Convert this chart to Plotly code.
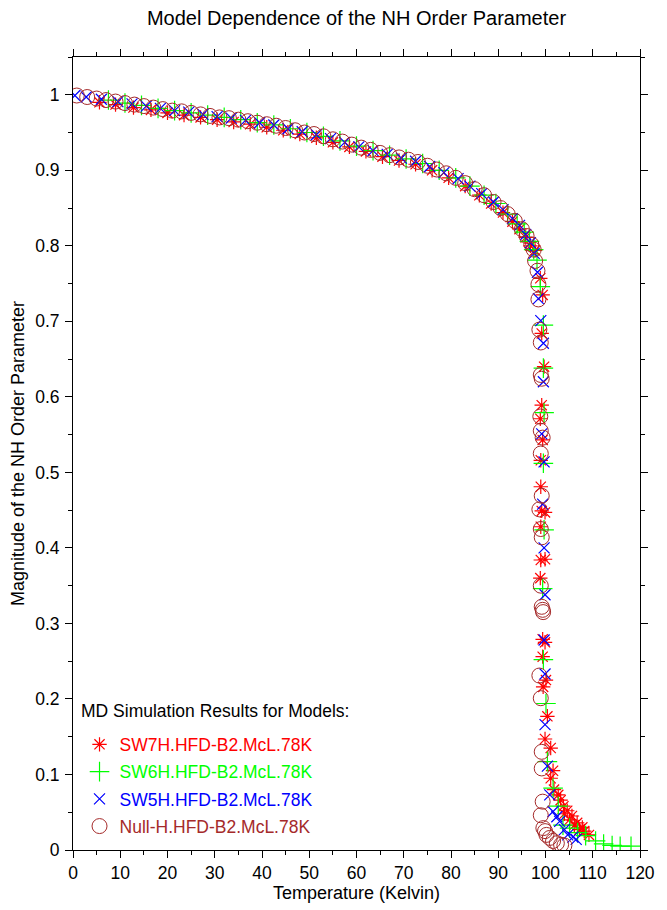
import plotly.graph_objects as go

# Temperature (K) and |S_NH| for each MD model
sw7h_temp = [5.6, 9, 12.8, 16.5, 20, 23.5, 27, 30.5, 34, 37.5, 41, 44.5, 48, 51.5, 55, 58.5,
             62, 65.5, 69, 72.5, 76, 79.5, 83, 86, 88.5, 91, 93, 94.5, 95.8, 96.8, 97.8,
             98.9, 99.4, 99.2, 99.7, 99.2, 98.9, 99.4, 99.2, 99.0, 99.0, 99.9, 99.0, 99.0,
             99.9, 98.9, 99.4, 99.9, 99.4, 100.1, 99.5, 100.4, 99.9, 101.1, 101.6, 101.1,
             101.8, 102.7, 103.2, 103.8, 104.0, 104.6, 105.1, 105.6, 106.1, 106.7, 107.2,
             107.8, 108.2, 109.2]
sw7h_order = [0.990, 0.987, 0.983, 0.980, 0.976, 0.973, 0.970, 0.967, 0.964, 0.961, 0.957,
              0.953, 0.948, 0.943, 0.937, 0.931, 0.925, 0.918, 0.913, 0.908, 0.900, 0.890,
              0.879, 0.867, 0.856, 0.844, 0.832, 0.822, 0.811, 0.800, 0.794,
              0.757, 0.735, 0.684, 0.640, 0.589, 0.571, 0.543, 0.449, 0.516, 0.481, 0.447,
              0.428, 0.384, 0.385, 0.360, 0.279, 0.275, 0.256, 0.225, 0.216, 0.177, 0.147,
              0.135, 0.105, 0.095, 0.080, 0.073, 0.066, 0.058, 0.048, 0.052, 0.040, 0.045,
              0.033, 0.036, 0.027, 0.030, 0.025, 0.020]

sw6h_temp = [7.5, 11, 14.5, 18, 21.5, 25, 28.5, 32, 35.5, 39, 42.5, 46, 49.5, 53, 56.5, 60,
             63.5, 67, 70.5, 74, 77.5, 81, 84, 87, 89.5, 92, 94, 95.5, 96.6, 97.5,
             98.2, 98.9, 99.55, 99.55, 99.7, 99.55, 99.7, 99.4, 99.55, 100.1, 100.4, 101.6,
             102.7, 103.7, 105.1, 106.8, 108.5, 110.6, 112.3, 114.1, 115.8, 118.1]
sw6h_order = [0.993, 0.989, 0.986, 0.982, 0.979, 0.976, 0.973, 0.970, 0.967, 0.963, 0.960,
              0.955, 0.950, 0.945, 0.939, 0.932, 0.926, 0.920, 0.915, 0.909, 0.900, 0.890,
              0.879, 0.867, 0.856, 0.842, 0.829, 0.818, 0.806, 0.795,
              0.781, 0.746, 0.695, 0.638, 0.579, 0.512, 0.424, 0.346, 0.252, 0.194, 0.117,
              0.082, 0.058, 0.033, 0.029, 0.023, 0.019, 0.012, 0.008, 0.006, 0.005, 0.005]

sw5h_temp = [0.4, 2.8, 6, 9.5, 12.5, 15.5, 18.5, 21.5, 24.5, 27.5, 30.5, 33.5, 36.5, 39.5,
             42.5, 45.5, 48.5, 51.5, 54.5, 57.5, 60.5, 63.5, 66.5, 69.5, 72.5, 75.5, 78.5,
             81.5, 84, 86.5, 89, 91, 93, 94.5, 95.8, 96.8, 97.6,
             98.3, 98.5, 99.0, 99.55, 99.55, 99.2, 99.7, 99.4, 99.7, 99.9, 99.7, 99.9, 99.9,
             100.4, 100.9, 101.6, 102.4, 103.0, 104.0, 104.7, 105.8, 106.5]
sw5h_order = [0.999, 0.997, 0.994, 0.991, 0.988, 0.985, 0.982, 0.979, 0.977, 0.974, 0.971,
              0.969, 0.966, 0.963, 0.960, 0.955, 0.951, 0.947, 0.942, 0.937, 0.931, 0.926,
              0.921, 0.916, 0.912, 0.905, 0.897, 0.889, 0.879, 0.869, 0.858, 0.848, 0.836,
              0.827, 0.815, 0.804, 0.790,
              0.765, 0.730, 0.701, 0.671, 0.620, 0.551, 0.514, 0.458, 0.400, 0.338, 0.278,
              0.233, 0.166, 0.111, 0.073, 0.051, 0.044, 0.038, 0.027, 0.020, 0.017, 0.014]

null_temp = [0.8, 3, 5, 7, 9, 11, 13, 15, 17, 19, 21, 23, 25, 27, 29, 31, 33, 35, 37, 39, 41,
             43, 45, 47, 49, 51, 53, 55, 57, 59, 61, 63, 65, 67, 69, 71, 73, 75, 77, 79, 81,
             83, 85, 87, 89, 90.5, 92, 93.5, 95, 96, 97, 97.5, 97.8, 98.3, 98.5, 98.5,
             98.7, 99.0, 99.0, 99.2, 98.9, 99.0, 99.4, 99.0, 99.2, 98.7, 99.0, 99.2, 99.0,
             99.2, 99.4, 99.5, 98.7, 99.0, 99.2, 99.2, 99.4, 99.0, 99.55, 99.9, 100.2,
             100.9, 101.6, 102.4, 103.3, 104.0]
null_order = [0.999, 0.997, 0.995, 0.993, 0.991, 0.989, 0.987, 0.985, 0.983, 0.981, 0.979,
              0.978, 0.976, 0.974, 0.972, 0.970, 0.969, 0.967, 0.965, 0.963, 0.961, 0.959,
              0.956, 0.953, 0.950, 0.948, 0.945, 0.941, 0.938, 0.934, 0.930, 0.927, 0.923,
              0.920, 0.917, 0.914, 0.911, 0.906, 0.901, 0.896, 0.890, 0.883, 0.875, 0.867,
              0.858, 0.850, 0.842, 0.833, 0.822, 0.813, 0.802, 0.795, 0.780, 0.767, 0.749,
              0.729, 0.689, 0.672, 0.629, 0.624, 0.574, 0.555, 0.546, 0.525, 0.469, 0.451,
              0.425, 0.414, 0.350, 0.322, 0.318, 0.315, 0.231, 0.201, 0.130, 0.108, 0.064,
              0.046, 0.029, 0.025, 0.020, 0.016, 0.012, 0.009, 0.007, 0.006]

series = [
    ("SW7H.HFD-B2.McL.78K", sw7h_temp, sw7h_order, "#ff0000", "asterisk-open", 12, 1.2),
    ("SW6H.HFD-B2.McL.78K", sw6h_temp, sw6h_order, "#00ff00", "cross-thin-open", 14, 1.2),
    ("SW5H.HFD-B2.McL.78K", sw5h_temp, sw5h_order, "#0000ff", "x-thin-open", 11, 1.2),
    ("Null-H.HFD-B2.McL.78K", null_temp, null_order, "#a52a2a", "circle-open", 15, 1.0),
]

FONT = "Liberation Sans, Arial, sans-serif"

fig = go.Figure()
for i, (name, t, s, color, symbol, size, lw) in enumerate(series):
    fig.add_trace(go.Scatter(
        x=t, y=s, mode="markers",
        name=f'<span style="color:{color}">{name}</span>',
        legendgroup=f"g{i}",
        marker=dict(symbol=symbol, size=size, color=color,
                    line=dict(color=color, width=lw)),
    ))

axis_common = dict(
    showline=True, linecolor="black", linewidth=1, mirror="ticks",
    ticks="outside", ticklen=7, tickwidth=1, tickcolor="black",
    showgrid=False, zeroline=False,
    tickfont=dict(family=FONT, size=17.5, color="black"),
)

fig.update_xaxes(
    range=[0, 120], dtick=10, tick0=0,
    minor=dict(dtick=5, ticks="outside", ticklen=4, tickcolor="black"),
    title=dict(text="Temperature (Kelvin)", font=dict(family=FONT, size=18, color="black"),
               standoff=1),
    **axis_common,
)
fig.update_yaxes(
    range=[0, 1.05], dtick=0.1, tick0=0,
    minor=dict(dtick=0.05, ticks="outside", ticklen=4, tickcolor="black"),
    title=dict(text="Magnitude of the NH Order Parameter",
               font=dict(family=FONT, size=18, color="black"), standoff=5),
    ticklabelstandoff=2,
    **axis_common,
)

fig.update_layout(
    width=667, height=910,
    margin=dict(l=73, r=15, t=57, b=60),
    paper_bgcolor="white", plot_bgcolor="white",
    font=dict(family=FONT, color="black"),
    title=dict(text="Model Dependence of the NH Order Parameter",
               font=dict(family=FONT, size=20, color="black"),
               x=0.5, xref="paper", xanchor="center",
               y=1 - 18 / 910, yref="container", yanchor="middle"),
    showlegend=True,
    legend=dict(
        x=0.0115, y=0.1558, xanchor="left", yanchor="top",
        bgcolor="rgba(0,0,0,0)", borderwidth=0,
        font=dict(family=FONT, size=17.5),
        tracegroupgap=1.5,
    ),
    annotations=[dict(
        text="MD Simulation Results for Models:",
        xref="paper", yref="paper", x=(79 - 73) / 579, y=(850.5 - 711) / 793,
        xanchor="left", yanchor="middle", showarrow=False,
        font=dict(family=FONT, size=17.5, color="black"),
    )],
)

fig.write_html("out.html")
